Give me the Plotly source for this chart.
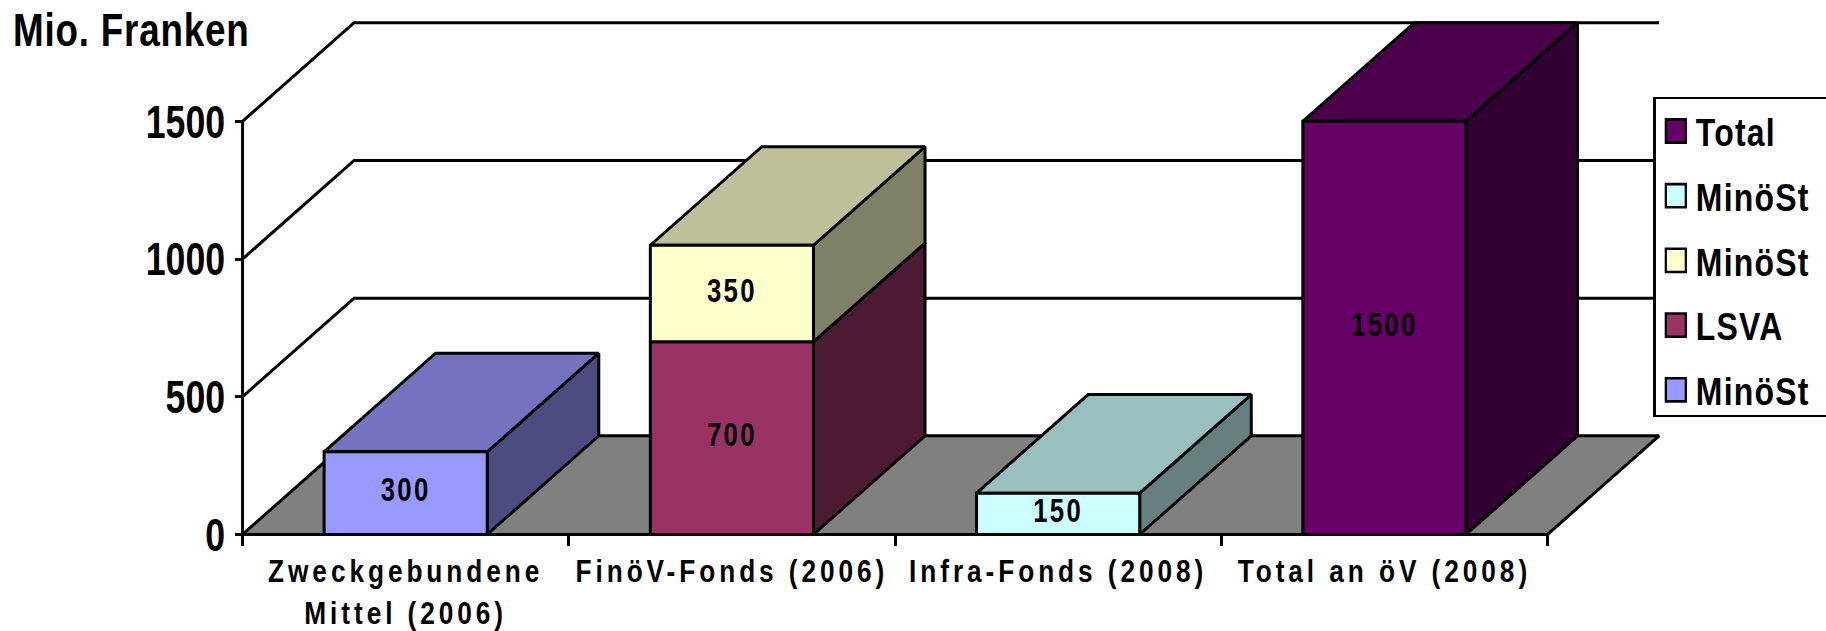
import plotly.graph_objects as go

# ---- data ----
categories = ["Zweckgebundene<br>Mittel (2006)", "FinöV-Fonds (2006)", "Infra-Fonds (2008)", "Total an öV (2008)"]
y_ticks = [0, 500, 1000, 1500]
minoest_zweck = [300, 0, 0, 0]
lsva = [0, 700, 0, 0]
minoest_finoev = [0, 350, 0, 0]
minoest_infra = [0, 0, 150, 0]
total = [0, 0, 0, 1500]
legend_order = ["Total", "MinöSt c", "MinöSt y", "LSVA", "MinöSt b"]

# ---- style ----
COL = {"MinöSt b": (0x99, 0x99, 0xFF), "LSVA": (0x99, 0x33, 0x66), "MinöSt y": (0xFF, 0xFF, 0xCC),
       "MinöSt c": (0xCC, 0xFF, 0xFF), "Total": (0x66, 0x00, 0x66)}
stack_order = [("MinöSt b", minoest_zweck), ("LSVA", lsva), ("MinöSt y", minoest_finoev),
               ("MinöSt c", minoest_infra), ("Total", total)]
FONT = "Liberation Sans, Arial, sans-serif"
LW = 3
BAR_W = 0.5          # bar width in category units
DX, DY = 0.342, 358  # oblique depth in axis units
XMIN, XMAX, YMIN, YMAX = -0.02, 4.4, -20, 1904
PX_X, PX_Y = 326.2, 0.2752   # pixels per axis unit
LEFT, BOTTOM = 242.4 + XMIN * PX_X, 534 - YMIN * PX_Y   # plot-area edges in pixels
PW, PH = (XMAX - XMIN) * PX_X, (YMAX - YMIN) * PX_Y


def shade(rgb, k):
    return "rgb(%d,%d,%d)" % tuple(round(c * k) for c in rgb)


fig = go.Figure()


def poly(xs, ys, fill):
    fig.add_trace(go.Scatter(x=xs + xs[:1], y=ys + ys[:1], mode="lines", fill="toself", fillcolor=fill,
                             line=dict(color="black", width=LW), showlegend=False, hoverinfo="skip",
                             cliponaxis=False))


def line(xs, ys):
    fig.add_trace(go.Scatter(x=xs, y=ys, mode="lines", line=dict(color="black", width=LW),
                             showlegend=False, hoverinfo="skip", cliponaxis=False))


n = len(categories)
# wall grid
for v in y_ticks[1:]:
    line([0, DX, n + DX], [v, v + DY, v + DY])
# floor
poly([0, n, n + DX, DX], [0, 0, DY, DY], "#808080")
# axis lines
line([0, 0], [0, y_ticks[-1]])
line([0, n], [0, 0])

# bars
base = [0] * n
labels_x, labels_y, labels_t = [], [], []
for i in range(n):
    for name, vals in stack_order:
        v = vals[i]
        if not v:
            continue
        x0, x1 = i + 0.5 - BAR_W / 2, i + 0.5 + BAR_W / 2
        y0, y1 = base[i], base[i] + v
        rgb = COL[name]
        poly([x1, x1 + DX, x1 + DX, x1], [y0, y0 + DY, y1 + DY, y1], shade(rgb, 0.5))
        poly([x0, x1, x1 + DX, x0 + DX], [y1, y1, y1 + DY, y1 + DY], shade(rgb, 0.75))
        poly([x0, x1, x1, x0], [y0, y0, y1, y1], shade(rgb, 1))
        labels_x.append(i + 0.5)
        labels_y.append((y0 + y1) / 2)
        labels_t.append(str(v))
        base[i] = y1

fig.add_trace(go.Scatter(x=labels_x, y=labels_y, text=labels_t, mode="text", textposition="middle center",
                         textfont=dict(family=FONT, size=33, color="black", weight="bold"),
                         showlegend=False, hoverinfo="skip", cliponaxis=False))

# legend entries
for i, key in enumerate(legend_order):
    fig.add_trace(go.Scatter(x=[None], y=[None], mode="markers", name=key[:-2] if key[-2] == " " else key,
                             legendgroup=key,
                             marker=dict(symbol="square", size=16, color=shade(COL[key], 1),
                                         line=dict(color="black", width=2))))

fig.update_layout(
    width=1826, height=631,
    margin=dict(l=LEFT, r=1826 - LEFT - PW, t=BOTTOM - PH, b=631 - BOTTOM, autoexpand=False),
    paper_bgcolor="white", plot_bgcolor="white",
    title=dict(text="Mio. Franken", x=13 / 1826, xanchor="left", y=1 - 30 / 631, yanchor="middle",
               font=dict(family=FONT, size=46, color="black", weight="bold")),
    xaxis=dict(range=[XMIN, XMAX], showgrid=False, zeroline=False, showline=False,
               anchor="free", position=-YMIN / (YMAX - YMIN),
               tickmode="array", tickvals=[i + 0.5 for i in range(n)], ticktext=categories,
               ticks="", ticklabelstandoff=15, tickfont=dict(family=FONT, size=32, color="black", weight="bold"),
               minor=dict(tickmode="array", tickvals=list(range(n + 1)), ticks="outside", ticklen=11,
                          tickwidth=2.5, tickcolor="black", showgrid=False)),
    yaxis=dict(range=[YMIN, YMAX], showgrid=False, zeroline=False, showline=False,
               anchor="free", position=-XMIN / (XMAX - XMIN),
               tickmode="array", tickvals=y_ticks, ticks="outside", ticklen=8, tickwidth=2.5, tickcolor="black",
               tickfont=dict(family=FONT, size=47, color="black", weight="bold")),
    legend=dict(x=(1653 - LEFT) / PW, y=(BOTTOM - 96.6) / PH, xanchor="left", yanchor="top",
                bgcolor="white", bordercolor="black", borderwidth=2.5,
                font=dict(family=FONT, size=39, color="black", weight="bold"),
                tracegroupgap=11, itemsizing="trace", traceorder="grouped", itemwidth=30,
                entrywidth=105, entrywidthmode="pixels"),
    showlegend=True,
)

post = """
document.body.style.margin = '0';
document.body.style.overflow = 'hidden';
function squeeze(el, sx, ls) {
  const cx = parseFloat(el.getAttribute('x')) || 0;
  const t = el.getAttribute('transform') || '';
  el.setAttribute('transform', t + ` translate(${cx},0) scale(${sx},1) translate(${-cx},0)`);
  if (ls) el.style.letterSpacing = ls + 'px';
}
document.querySelectorAll('.xtick text').forEach(t => squeeze(t, 0.82, 4.8));
document.querySelectorAll('.ytick text').forEach(t => squeeze(t, 0.76, 0));
document.querySelectorAll('.scatterlayer .textpoint text').forEach(t => squeeze(t, 0.78, 3));
document.querySelectorAll('.legendtext').forEach(t => squeeze(t, 0.82, 1.5));
document.querySelectorAll('.gtitle').forEach(t => squeeze(t, 0.8, 1));
document.querySelectorAll('.legend .legendpoints path').forEach(p => {
  p.setAttribute('transform', (p.getAttribute('transform') || '') + ' scale(1.25,1.45)');
  p.style.strokeWidth = '1.8px';
});
document.querySelectorAll('.legend .bg').forEach(r => r.setAttribute('height', 318));
"""
fig.write_html("out.html", post_script=post, config=dict(displayModeBar=False))
